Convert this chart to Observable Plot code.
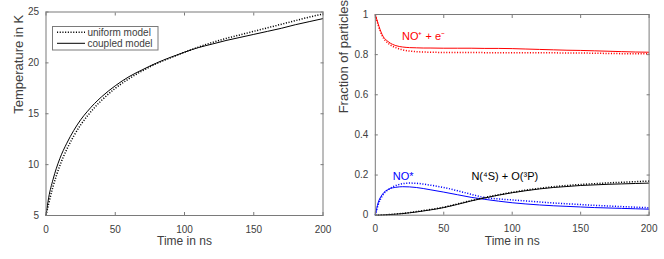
<!DOCTYPE html>
<html>
<head>
<meta charset="utf-8">
<script src="https://cdn.jsdelivr.net/npm/d3@7"></script>
<script src="https://cdn.jsdelivr.net/npm/@observablehq/plot@0.6"></script>
<style>
  body { margin: 0; background: #fff; }
  #wrap { position: relative; width: 664px; height: 259px; font-family: "Liberation Sans", Arial, sans-serif; }
  #left, #right, #legend { position: absolute; top: 0; }
  #left { left: 0; }
  #right { left: 290px; }
  #legend { left: 52px; top: 26px; }
</style>
</head>
<body>
<div id="wrap">
  <div id="left"></div>
  <div id="right"></div>
  <div id="legend"></div>
</div>
<script>
// ---------- data ----------
const time = [0, 2, 5, 10, 15, 20, 25, 30, 35, 40, 50, 60, 70, 80, 90, 100, 110, 120, 130, 140, 150, 160, 170, 180, 190, 200];

// Left panel: temperature in K
const tempUniform = [5, 6.2, 7.8, 9.9, 11.5, 12.8, 13.9, 14.8, 15.6, 16.3, 17.5, 18.45, 19.25, 19.95, 20.5, 21.05, 21.55, 22.0, 22.4, 22.75, 23.1, 23.45, 23.8, 24.15, 24.5, 24.8];
const tempCoupled = [5, 6.8, 8.5, 10.6, 12.1, 13.35, 14.4, 15.25, 16.0, 16.65, 17.75, 18.65, 19.35, 20.0, 20.55, 21.05, 21.5, 21.85, 22.2, 22.5, 22.8, 23.1, 23.4, 23.75, 24.05, 24.35];

// Right panel: fraction of particles (solid = coupled, dotted = uniform)
const ionSolid   = [1, 0.955, 0.9, 0.862, 0.845, 0.838, 0.835, 0.834, 0.833, 0.833, 0.832, 0.832, 0.832, 0.831, 0.831, 0.83, 0.828, 0.826, 0.824, 0.822, 0.821, 0.819, 0.817, 0.815, 0.813, 0.812];
const ionDotted  = [1, 0.95, 0.895, 0.853, 0.835, 0.824, 0.818, 0.815, 0.813, 0.812, 0.811, 0.811, 0.811, 0.81, 0.81, 0.81, 0.81, 0.809, 0.809, 0.808, 0.808, 0.807, 0.806, 0.805, 0.805, 0.804];
const rydSolid   = [0, 0.06, 0.102, 0.13, 0.139, 0.142, 0.141, 0.138, 0.133, 0.127, 0.115, 0.102, 0.089, 0.079, 0.07, 0.062, 0.056, 0.051, 0.047, 0.044, 0.041, 0.038, 0.036, 0.034, 0.032, 0.03];
const rydDotted  = [0, 0.05, 0.095, 0.13, 0.148, 0.157, 0.16, 0.159, 0.155, 0.15, 0.138, 0.122, 0.104, 0.088, 0.081, 0.076, 0.071, 0.066, 0.061, 0.057, 0.053, 0.049, 0.046, 0.043, 0.04, 0.037];
const neuSolid   = [0, 0, 0.001, 0.003, 0.005, 0.008, 0.012, 0.016, 0.021, 0.026, 0.038, 0.054, 0.071, 0.086, 0.1, 0.112, 0.122, 0.131, 0.138, 0.143, 0.148, 0.151, 0.154, 0.156, 0.158, 0.16];
const neuDotted  = [0, 0, 0.001, 0.003, 0.006, 0.009, 0.013, 0.018, 0.023, 0.028, 0.04, 0.056, 0.073, 0.088, 0.102, 0.114, 0.125, 0.134, 0.142, 0.148, 0.153, 0.157, 0.161, 0.164, 0.167, 0.17];

// Ticks and labels
const timeTicks = [0, 50, 100, 150, 200];
const tempTicks = [5, 10, 15, 20, 25];
const fracTicks = [0, 0.2, 0.4, 0.6, 0.8, 1];
const fracTickLabels = ["0", "0.2", "0.4", "0.6", "0.8", "1"];
const xLabel = "Time in ns";
const yLabelLeft = "Temperature in K";
const yLabelRight = "Fraction of particles";
const legendLabels = ["uniform model", "coupled model"];

// Annotations on right panel
const annoText  = ["NO\u207A + e\u207B", "NO*", "N(\u2074S) + O(\u00B3P)"];
const annoTime  = [19.5, 12.7, 70.2];
const annoFrac  = [0.893, 0.193, 0.193];
const annoColor = ["#ff0000", "#0000ff", "#000000"];

// ---------- styles ----------
const FONT = "Liberation Sans, Arial, sans-serif";
const AXIS = "#7a7a7a";
const TEXT = "#404040";
const DOT = {strokeDasharray: "1.1,1.6", strokeWidth: 1.5, strokeLinecap: "butt"};
const SOLID = {strokeWidth: 1, strokeLinecap: "butt"};

function boxAxes(xTicks, yTicks, yFormat) {
  return [
    Plot.frame({stroke: AXIS}),
    Plot.axisX({anchor: "bottom", ticks: xTicks, tickSize: -3, tickPadding: 13, label: null, stroke: AXIS, fill: TEXT, fontSize: 10}),
    Plot.axisX({anchor: "top", ticks: xTicks, tickSize: -3, tickFormat: () => "", label: null, stroke: AXIS}),
    Plot.axisY({anchor: "left", ticks: yTicks, tickSize: -3, tickPadding: 10, label: null, stroke: AXIS, fill: TEXT, fontSize: 10, tickFormat: yFormat}),
    Plot.axisY({anchor: "right", ticks: yTicks, tickSize: -3, tickFormat: () => "", label: null, stroke: AXIS})
  ];
}

const left = Plot.plot({
  width: 332, height: 259,
  marginLeft: 45.5, marginRight: 9.5, marginTop: 11.5, marginBottom: 44,
  style: {fontFamily: FONT, fontSize: "10px", color: TEXT, background: "transparent", overflow: "visible"},
  x: {domain: [0, 200]},
  y: {domain: [5, 25]},
  marks: [
    Plot.lineY(tempUniform, {x: time, stroke: "#000", curve: "monotone-x", ...DOT}),
    Plot.lineY(tempCoupled, {x: time, stroke: "#000", curve: "monotone-x", ...SOLID}),
    ...boxAxes(timeTicks, tempTicks, d => String(d)),
    Plot.text([xLabel], {frameAnchor: "bottom", dy: 29, fontSize: 12, fill: TEXT}),
    Plot.text([yLabelLeft], {frameAnchor: "left", rotate: -90, dx: -27.5, fontSize: 13, fill: TEXT})
  ]
});
document.getElementById("left").appendChild(left);

const right = Plot.plot({
  width: 374, height: 259,
  marginLeft: 84.8, marginRight: 15.4, marginTop: 14, marginBottom: 44.3,
  style: {fontFamily: FONT, fontSize: "10px", color: TEXT, background: "transparent", overflow: "visible"},
  x: {domain: [0, 200]},
  y: {domain: [0, 1]},
  marks: [
    Plot.lineY(ionDotted, {x: time, stroke: "#ff0000", curve: "monotone-x", ...DOT}),
    Plot.lineY(ionSolid, {x: time, stroke: "#ff0000", curve: "monotone-x", ...SOLID}),
    Plot.lineY(rydDotted, {x: time, stroke: "#0000ff", curve: "monotone-x", ...DOT}),
    Plot.lineY(rydSolid, {x: time, stroke: "#0000ff", curve: "monotone-x", ...SOLID}),
    Plot.lineY(neuDotted, {x: time, stroke: "#000", curve: "monotone-x", ...DOT}),
    Plot.lineY(neuSolid, {x: time, stroke: "#000", curve: "monotone-x", ...SOLID}),
    ...boxAxes(timeTicks, fracTicks, d => fracTickLabels[fracTicks.indexOf(d)]),
    Plot.text(annoText, {x: annoTime, y: annoFrac, text: d => d, fill: annoColor, textAnchor: "start", fontSize: 11}),
    Plot.text([xLabel], {frameAnchor: "bottom", dy: 29.3, fontSize: 12, fill: TEXT}),
    Plot.text([yLabelRight], {frameAnchor: "left", rotate: -90, dx: -31, dy: -1.5, fontSize: 13, fill: TEXT})
  ]
});
document.getElementById("right").appendChild(right);

// Legend box (MATLAB style, inside left axes)
const lg = d3.select("#legend").append("svg").attr("width", 108).attr("height", 26)
  .style("font-family", FONT).style("font-size", "10px");
lg.append("rect").attr("x", 0.5).attr("y", 0.5).attr("width", 105.5).attr("height", 23.5)
  .attr("fill", "#fff").attr("stroke", AXIS);
legendLabels.forEach((lab, i) => {
  const yy = 6.3 + i * 11;
  lg.append("line").attr("x1", 5).attr("x2", 33).attr("y1", yy).attr("y2", yy)
    .attr("stroke", "#000")
    .attr("stroke-width", i === 0 ? DOT.strokeWidth : 1)
    .attr("stroke-dasharray", i === 0 ? DOT.strokeDasharray : null);
  lg.append("text").attr("x", 35.5).attr("y", yy).attr("dy", "0.35em").attr("fill", TEXT).text(lab);
});
</script>
</body>
</html>
